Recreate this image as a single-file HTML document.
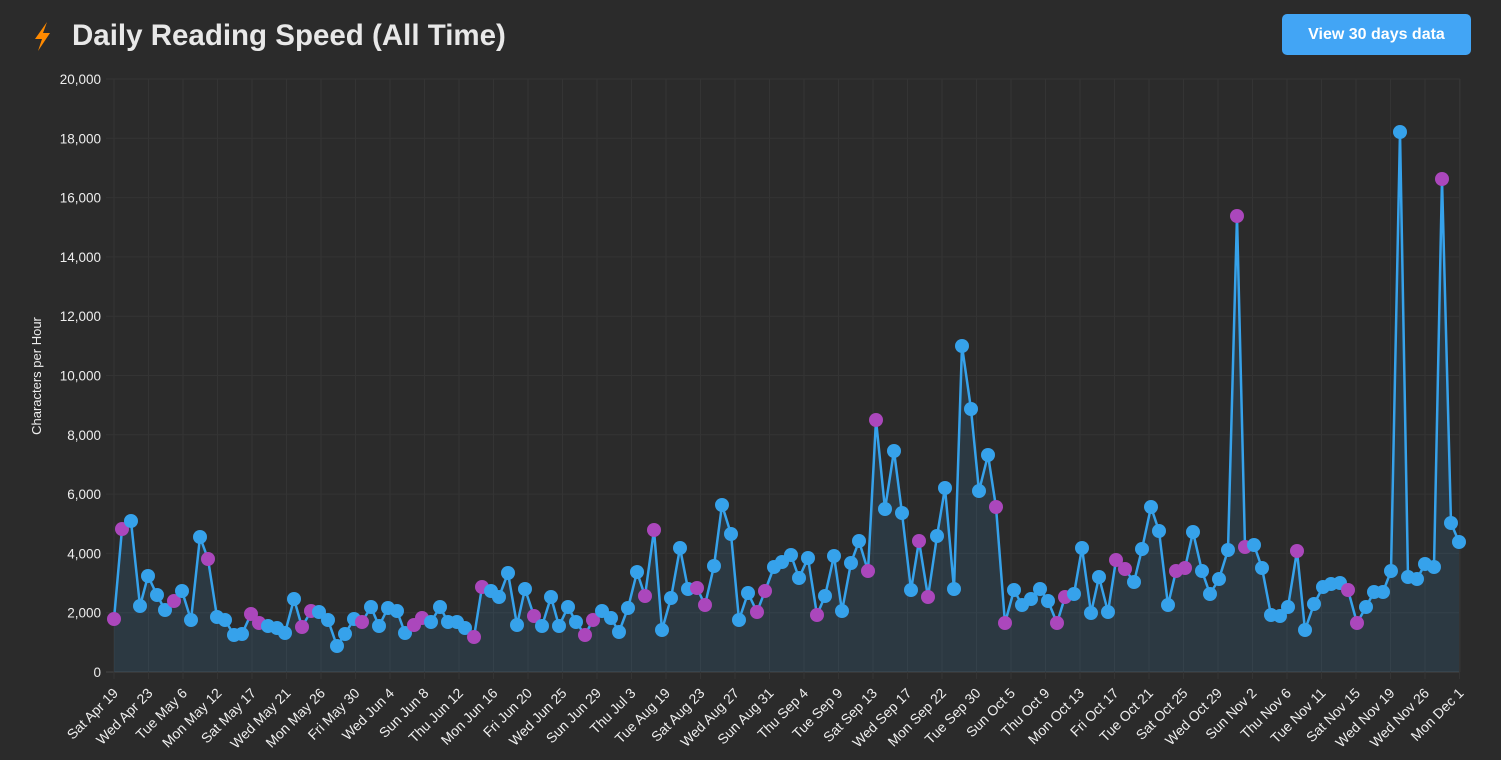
<!DOCTYPE html>
<html><head><meta charset="utf-8"><style>
body{margin:0;background:#2b2b2b;width:1501px;height:760px;overflow:hidden;font-family:"Liberation Sans",sans-serif}
.title{position:absolute;left:72px;top:19px;color:#e8e8e8;font-size:29.5px;font-weight:bold}
.btn{position:absolute;left:1282px;top:14px;width:189px;height:41px;background:#42a5f5;border-radius:5px;color:#fff;font-weight:bold;font-size:16px;line-height:41px;text-align:center}
svg{position:absolute;left:0;top:0}
</style></head><body>
<svg width="40" height="60" style="left:30px;top:18px"><polygon points="17,4 5,21 12,21 8,33 20,15 13,15" fill="#ff8a00"/></svg>
<div class="title">Daily Reading Speed (All Time)</div>
<div class="btn">View 30 days data</div>
<svg id="c" width="1501" height="760"></svg>
<script>
const P=`114,619,P 122,529,P 131,521,B 140,606,B 148,576,B 157,595,B 165,610,B 174,601,P 182,591,B 191,620,B 200,537,B 208,559,P 217,617,B 225,620,B 234,635,B 242,634,B 251,614,P 259,623,P 268,626,B 277,628,B 285,633,B 294,599,B 302,627,P 311,611,P 319,612,B 328,620,B 337,646,B 345,634,B 354,619,B 362,622,P 371,607,B 379,626,B 388,608,B 397,611,B 405,633,B 414,625,P 422,618,P 431,622,B 440,607,B 448,622,B 457,622,B 465,628,B 474,637,P 482,587,P 491,591,B 499,597,B 508,573,B 517,625,B 525,589,B 534,616,P 542,626,B 551,597,B 559,626,B 568,607,B 576,622,B 585,635,P 593,620,P 602,611,B 611,618,B 619,632,B 628,608,B 637,572,B 645,596,P 654,530,P 662,630,B 671,598,B 680,548,B 688,589,B 697,588,P 705,605,P 714,566,B 722,505,B 731,534,B 739,620,B 748,593,B 757,612,P 765,591,P 774,567,B 782,562,B 791,555,B 799,578,B 808,558,B 817,615,P 825,596,B 834,556,B 842,611,B 851,563,B 859,541,B 868,571,P 876,420,P 885,509,B 894,451,B 902,513,B 911,590,B 919,541,P 928,597,P 937,536,B 945,488,B 954,589,B 962,346,B 971,409,B 979,491,B 988,455,B 996,507,P 1005,623,P 1014,590,B 1022,605,B 1031,599,B 1040,589,B 1048,601,B 1057,623,P 1065,597,P 1074,594,B 1082,548,B 1091,613,B 1099,577,B 1108,612,B 1116,560,P 1125,569,P 1134,582,B 1142,549,B 1151,507,B 1159,531,B 1168,605,B 1176,571,P 1185,568,P 1193,532,B 1202,571,B 1210,594,B 1219,579,B 1228,550,B 1237,216,P 1245,547,P 1254,545,B 1262,568,B 1271,615,B 1280,616,B 1288,607,B 1297,551,P 1305,630,B 1314,604,B 1323,587,B 1331,584,B 1340,583,B 1348,590,P 1357,623,P 1366,607,B 1374,592,B 1383,592,B 1391,571,B 1400,132,B 1408,577,B 1417,579,B 1425,564,B 1434,567,B 1442,179,P 1451,523,B 1459,542,B`.split(' ').map(s=>s.split(','));
const L=["Sat Apr 19","Wed Apr 23","Tue May 6","Mon May 12","Sat May 17","Wed May 21","Mon May 26","Fri May 30","Wed Jun 4","Sun Jun 8","Thu Jun 12","Mon Jun 16","Fri Jun 20","Wed Jun 25","Sun Jun 29","Thu Jul 3","Tue Aug 19","Sat Aug 23","Wed Aug 27","Sun Aug 31","Thu Sep 4","Tue Sep 9","Sat Sep 13","Wed Sep 17","Mon Sep 22","Tue Sep 30","Sun Oct 5","Thu Oct 9","Mon Oct 13","Fri Oct 17","Tue Oct 21","Sat Oct 25","Wed Oct 29","Sun Nov 2","Thu Nov 6","Tue Nov 11","Sat Nov 15","Wed Nov 19","Wed Nov 26","Mon Dec 1"];
let s='';const y0=672,y1=79;
for(let i=0;i<=10;i++){const y=y0-(y0-y1)*i/10;s+=`<line x1="106" x2="1460" y1="${y}" y2="${y}" stroke="${i?'#343434':'#444'}"/>`;
s+=`<text x="101" y="${y+5}" fill="#eee" font-size="13.5" text-anchor="end">${(i*2000).toLocaleString('en-US')}</text>`;}
L.forEach((t,i)=>{const x=114+i*34.5;s+=`<line x1="${x}" x2="${x}" y1="79" y2="679" stroke="#343434"/>`;
s+=`<text transform="translate(${x+5},${694}) rotate(-45)" fill="#eee" font-size="14" text-anchor="end">${t}</text>`;});
s+=`<line x1="1460" x2="1460" y1="79" y2="672" stroke="#343434"/>`;
s+=`<text transform="translate(41,376) rotate(-90)" fill="#eee" font-size="13" text-anchor="middle">Characters per Hour</text>`;
const pts=P.map(p=>p[0]+','+p[1]).join(' ');
s+=`<polygon points="114,672 ${pts} 1459,672" fill="rgba(54,162,235,0.12)"/>`;
s+=`<polyline points="${pts}" fill="none" stroke="#36a2eb" stroke-width="2.5"/>`;
P.forEach(p=>{s+=`<circle cx="${p[0]}" cy="${p[1]}" r="7" fill="${p[2]=='P'?'#ab47bc':'#36a2eb'}"/>`});
document.getElementById('c').innerHTML=s;
</script>
</body></html>
